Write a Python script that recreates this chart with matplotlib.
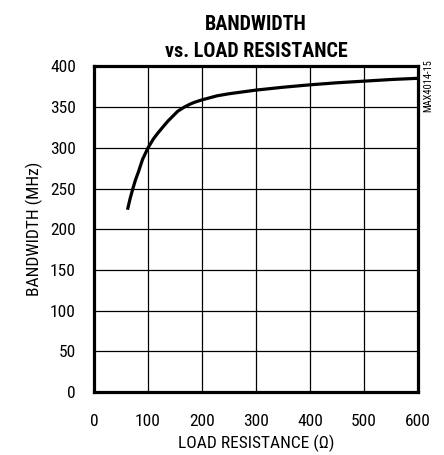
import matplotlib
matplotlib.use('Agg')
import matplotlib.pyplot as plt
from matplotlib import font_manager

# Data
load_res = [62, 67, 72, 77, 82, 90, 100, 110, 118, 128, 137, 146, 155, 167, 177, 186, 200, 228, 250, 300, 350, 400, 450, 500, 550, 600]
bandwidth = [224, 238, 250, 261, 270, 286, 300, 311, 318, 326, 333, 339, 345, 350, 353.5, 356, 359, 364, 366.5, 371, 374.5, 377.5, 380, 382, 384, 385.5]

x_ticks = [0, 100, 200, 300, 400, 500, 600]
y_ticks = [0, 50, 100, 150, 200, 250, 300, 350, 400]

names = {f.name for f in font_manager.fontManager.ttflist}
family = [n for n in ['Roboto Condensed', 'Archivo Narrow', 'Liberation Sans'] if n in names]
plt.rcParams['font.family'] = family + ['DejaVu Sans']

fig = plt.figure(figsize=(4.44, 4.55), dpi=100)
ax = fig.add_axes([94/444, 63/455, 324/444, 325.5/455])

ax.plot(load_res, bandwidth, color='black', linewidth=2.3, solid_capstyle='butt')

ax.set_xlim(0, 600)
ax.set_ylim(0, 400)
ax.set_xticks(x_ticks)
ax.set_yticks(y_ticks)
ax.grid(True, color='black', linewidth=0.9)
ax.tick_params(axis='y', length=0, labelsize=12.5, pad=13)
ax.tick_params(axis='x', length=0, labelsize=12.5, pad=16)
for s in ax.spines.values():
    s.set_linewidth(2.3)

ax.set_xlabel('LOAD RESISTANCE (Ω)', fontsize=12.5, labelpad=4)
ax.set_ylabel('BANDWIDTH (MHz)', fontsize=12.5, labelpad=5)
ax.set_title('BANDWIDTH\nvs. LOAD RESISTANCE', fontsize=14.5, fontweight='heavy',
             linespacing=1.5, pad=7)

fig.text(428/444, 1 - 86/455, 'MAX4014-15', rotation=90, fontsize=7.5,
         ha='center', va='center')

plt.savefig('out.png', dpi=100)
